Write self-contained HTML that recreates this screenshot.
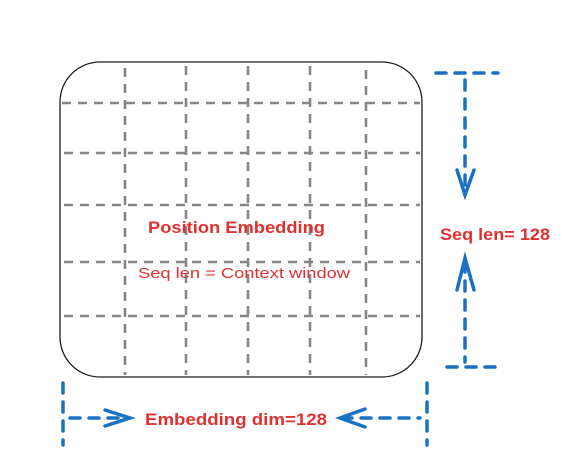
<!DOCTYPE html>
<html><head><meta charset="utf-8"><style>
html,body{margin:0;padding:0;background:#fff;}
svg{display:block;}
</style></head><body>
<svg width="572" height="463" viewBox="0 0 572 463">
<rect x="0" y="0" width="572" height="463" fill="#ffffff"/>
<rect x="60" y="62" width="362" height="315" rx="40" ry="40" fill="none" stroke="#1e1e1e" stroke-width="1.3"/>
<g stroke="#868686" stroke-width="2.6" stroke-dasharray="9 7" fill="none">
<line x1="125" y1="68" x2="125" y2="375"/>
<line x1="186" y1="66" x2="186" y2="375"/>
<line x1="248" y1="66" x2="248" y2="375"/>
<line x1="310" y1="66" x2="310" y2="375"/>
<line x1="366" y1="70" x2="366" y2="375"/>
<line x1="62" y1="103" x2="420" y2="103"/>
<line x1="64" y1="153" x2="420" y2="153"/>
<line x1="64" y1="205" x2="420" y2="205"/>
<line x1="64" y1="262" x2="420" y2="262"/>
<line x1="64" y1="316" x2="420" y2="316"/>
</g>
<text x="148" y="233" textLength="177" lengthAdjust="spacingAndGlyphs" font-family="Liberation Sans, sans-serif" font-weight="bold" font-size="17" fill="#e03131">Position Embedding</text>
<text x="138" y="278" textLength="212" lengthAdjust="spacingAndGlyphs" font-family="Liberation Sans, sans-serif" font-size="15" fill="#e03131">Seq len = Context window</text>
<g stroke="#1971c2" stroke-width="3.5" stroke-linecap="round" fill="none">
<line x1="436" y1="73" x2="498" y2="73" stroke-dasharray="10 9"/>
<line x1="465" y1="80" x2="465" y2="195" stroke-dasharray="10 9"/>
<polyline points="457,170 465,195 474,170"/>
<polyline points="457,290 465,258 474,290"/>
<line x1="465" y1="262" x2="465" y2="362" stroke-dasharray="10 9"/>
<line x1="447" y1="367" x2="500" y2="367" stroke-dasharray="10 9"/>
</g>
<text x="440" y="240" textLength="110" lengthAdjust="spacingAndGlyphs" font-family="Liberation Sans, sans-serif" font-weight="bold" font-size="17" fill="#e03131">Seq len= 128</text>
<g stroke="#1971c2" stroke-width="3.5" stroke-linecap="round" fill="none">
<line x1="63" y1="383" x2="63" y2="445" stroke-dasharray="10 9"/>
<line x1="427" y1="383" x2="427" y2="445" stroke-dasharray="10 9"/>
<line x1="70" y1="418" x2="130" y2="418" stroke-dasharray="10 9"/>
<polyline points="105,410 130,418 105,426"/>
<line x1="342" y1="418" x2="420" y2="418" stroke-dasharray="10 9"/>
<polyline points="365,409 340,418 365,427"/>
</g>
<text x="145" y="425" textLength="182" lengthAdjust="spacingAndGlyphs" font-family="Liberation Sans, sans-serif" font-weight="bold" font-size="17" fill="#e03131">Embedding dim=128</text>
</svg>
</body></html>
